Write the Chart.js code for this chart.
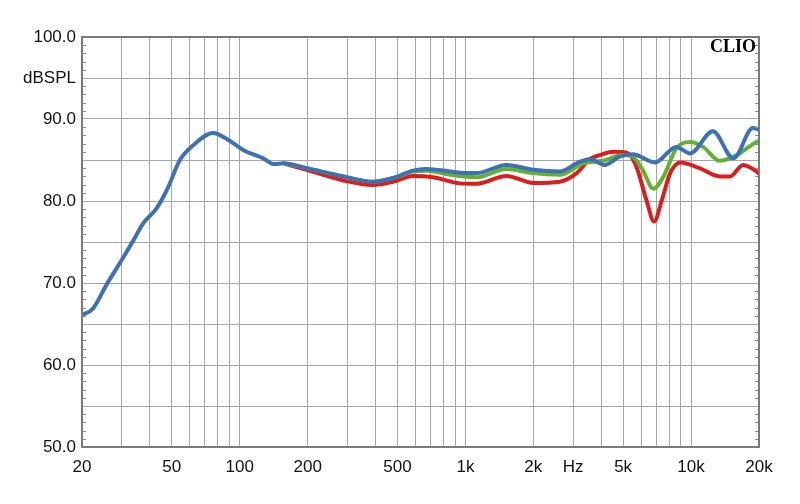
<!DOCTYPE html>
<html>
<head>
<meta charset="utf-8">
<script src="https://cdn.jsdelivr.net/npm/chart.js@4.4.0/dist/chart.umd.min.js"></script>
<style>
  html, body { margin: 0; padding: 0; background: #fff; }
</style>
</head>
<body>
<canvas id="chartFreq" width="800" height="504"></canvas>
<script>
// frequenze e valori
const freqBlu = [20, 22.4, 25.7, 30, 33.8, 37.4, 42.8, 48.2, 54.3, 62.2, 76.2, 87.4, 104, 127, 142, 156, 198, 288, 390, 478, 586, 672, 856, 946, 1120, 1520, 2000, 2620, 3220, 3560, 4140, 4820, 5520, 6920, 8600, 9900, 12500, 15400, 18800, 20000];
const splBlu  = [66.1, 66.9, 69.8, 72.8, 75.2, 77.3, 79.1, 81.7, 85.0, 86.8, 88.3, 87.6, 86.2, 85.2, 84.5, 84.6, 84.0, 83.0, 82.35, 82.8, 83.7, 83.9, 83.6, 83.45, 83.4, 84.4, 83.8, 83.6, 84.8, 85.1, 84.4, 85.4, 85.7, 84.7, 86.6, 85.8, 88.5, 85.2, 88.9, 88.7];

const freqVerde = [156, 198, 288, 390, 478, 586, 672, 856, 1120, 1520, 2000, 2620, 3340, 4070, 5000, 5520, 6100, 6800, 7550, 8600, 9900, 11300, 13400, 15900, 19500, 20000];
const splVerde  = [84.6, 84.0, 83.0, 82.35, 82.8, 83.6, 83.7, 83.2, 82.9, 83.9, 83.4, 83.2, 84.6, 84.9, 85.6, 85.4, 83.8, 81.5, 83.0, 86.4, 87.2, 86.6, 84.9, 85.6, 87.2, 87.3];

const freqRosso = [160, 198, 288, 390, 478, 586, 720, 946, 1120, 1520, 2000, 2620, 3112, 3560, 3940, 4520, 5180, 5720, 6340, 6860, 7420, 8080, 8960, 10900, 13400, 14900, 17000, 19500, 20000];
const splRosso  = [84.5, 83.8, 82.5, 81.95, 82.35, 83.05, 82.9, 82.15, 82.1, 83.05, 82.2, 82.35, 83.4, 85.1, 85.6, 86.0, 85.9, 84.2, 80.1, 77.5, 80.1, 83.4, 84.7, 84.0, 83.0, 83.0, 84.4, 83.6, 83.3];

// griglia e etichette asse x
const gridX = [20, 30, 40, 50, 60, 70, 80, 90, 100, 200, 300, 400, 500, 600, 700, 800, 900, 1000, 2000, 3000, 4000, 5000, 6000, 7000, 8000, 9000, 10000, 20000];
const labelX = { 20: '20', 50: '50', 100: '100', 200: '200', 500: '500', 1000: '1k', 2000: '2k', 3000: 'Hz', 5000: '5k', 10000: '10k', 20000: '20k' };

function punti(freq, spl) {
    return freq.map((f, i) => ({ x: f, y: spl[i] }));
}

// tacche piccole ogni 1 dB, riquadro e scritta CLIO
const extraPlugin = {
    id: 'extra',
    afterDraw(chart) {
        const ctx = chart.ctx;
        const area = chart.chartArea;
        const y = chart.scales.y;
        ctx.save();
        ctx.strokeStyle = '#8a8a8a';
        ctx.lineWidth = 1;
        for (let v = 51; v < 100; v++) {
            if (v % 5 == 0) continue;
            let py = Math.round(y.getPixelForValue(v)) + 0.5;
            ctx.beginPath();
            ctx.moveTo(area.left, py);
            ctx.lineTo(area.left + 4, py);
            ctx.moveTo(area.right - 4, py);
            ctx.lineTo(area.right, py);
            ctx.stroke();
        }
        ctx.strokeStyle = '#7a7a7a';
        ctx.lineWidth = 2;
        ctx.strokeRect(area.left, area.top, area.right - area.left, area.bottom - area.top);
        ctx.fillStyle = '#000';
        ctx.font = 'bold 18px "Liberation Serif"';
        ctx.textAlign = 'right';
        ctx.textBaseline = 'middle';
        ctx.fillText('CLIO', area.right - 3, area.top + 10);
        ctx.restore();
    }
};

var ctx = document.getElementById('chartFreq').getContext('2d');
var freqChart = new Chart(ctx, {
    type: 'line',
    data: {
        datasets: [{
            data: punti(freqBlu, splBlu),
            borderColor: 'rgb(62, 112, 182)',
            borderWidth: 4,
            order: 0
        }, {
            data: punti(freqVerde, splVerde),
            borderColor: 'rgb(96, 178, 52)',
            borderWidth: 4,
            order: 1
        }, {
            data: punti(freqRosso, splRosso),
            borderColor: 'rgb(222, 28, 28)',
            borderWidth: 4,
            order: 2
        }]
    },
    options: {
        responsive: false,
        animation: false,
        maintainAspectRatio: false,
        layout: { padding: { top: 37, right: 41, left: 0, bottom: 0 } },
        elements: {
            point: { radius: 0 },
            line: { cubicInterpolationMode: 'monotone', borderCapStyle: 'round', borderJoinStyle: 'round' }
        },
        plugins: { legend: { display: false }, tooltip: { enabled: false } },
        scales: {
            x: {
                type: 'logarithmic',
                min: 20,
                max: 20000,
                afterBuildTicks: axis => { axis.ticks = gridX.map(v => ({ value: v })); },
                afterFit: axis => { axis.height = 57; },
                ticks: {
                    autoSkip: false,
                    maxRotation: 0,
                    color: '#111',
                    padding: 10,
                    font: { family: '"Liberation Sans"', size: 17 },
                    callback: v => labelX[v] || ''
                },
                grid: { color: '#a6a6a6', lineWidth: 1, drawTicks: false },
                border: { color: '#7a7a7a', width: 2 }
            },
            y: {
                min: 50,
                max: 100,
                afterFit: axis => { axis.width = 82; },
                ticks: {
                    stepSize: 5,
                    color: '#111',
                    padding: 6,
                    font: { family: '"Liberation Sans"', size: 17 },
                    callback: v => v == 95 ? 'dBSPL' : (v % 10 == 0 ? v.toFixed(1) : '')
                },
                grid: { color: '#a6a6a6', lineWidth: 1, drawTicks: false },
                border: { color: '#7a7a7a', width: 2 }
            }
        }
    },
    plugins: [extraPlugin]
});
</script>
</body>
</html>
